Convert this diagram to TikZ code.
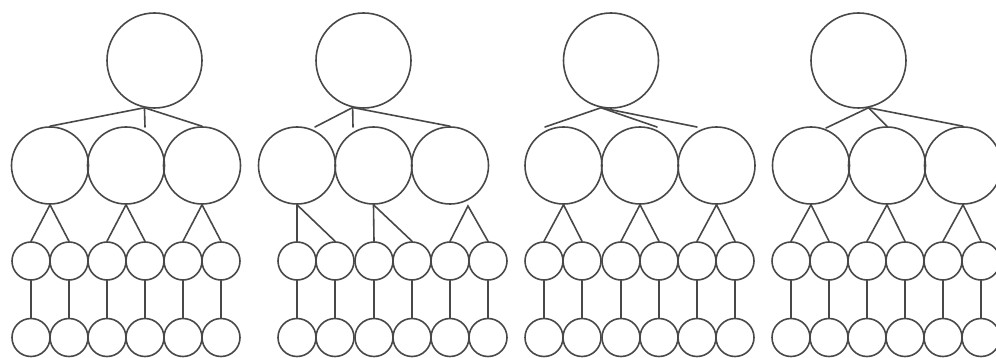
\documentclass[tikz,border=0pt]{standalone}
\definecolor{ink}{RGB}{72,72,72}
\begin{document}
\begin{tikzpicture}[x=1pt,y=-1pt,
  ring/.style={circle,draw=ink,line width=1.6pt,inner sep=0pt,fill=none},
  big/.style={minimum size=95pt},
  mid/.style={minimum size=77pt},
  small/.style={minimum size=38pt},
  link/.style={draw=ink,line width=1.6pt,line cap=round}]
\useasboundingbox (0,0) rectangle (996,358);

% ---------- tree 1 ----------
\node[ring,big] (t1) at (154.5,60.5) {};
\node[ring,mid] (m11) at (50,165.5) {};
\node[ring,mid] (m12) at (126,165.5) {};
\node[ring,mid] (m13) at (202,165.5) {};
\foreach \i/\x in {1/31,2/69,3/107,4/145,5/183,6/221}{
  \node[ring,small] (s1\i) at (\x,261) {};
  \node[ring,small] (b1\i) at (\x,337.5) {};
  \draw[link] (s1\i) -- (b1\i);
}
\coordinate (v1) at (145,127);
\draw[link] (m11.north) -- (t1.258) -- (m13.north);
\draw[link] (t1.258) -- (v1);
\draw[link] (s11.north) -- (m11.south) -- (s12.north);
\draw[link] (s13.north) -- (m12.south) -- (s14.north);
\draw[link] (s15.north) -- (m13.south) -- (s16.north);

% ---------- tree 2 ----------
\node[ring,big] (t2) at (363.5,60.5) {};
\node[ring,mid] (m21) at (297,165.5) {};
\node[ring,mid] (m22) at (373.5,165.5) {};
\node[ring,mid] (m23) at (450,165.5) {};
\foreach \i/\x in {1/297,2/335,3/374,4/412,5/450,6/488}{
  \node[ring,small] (s2\i) at (\x,261) {};
  \node[ring,small] (b2\i) at (\x,337.5) {};
  \draw[link] (s2\i) -- (b2\i);
}
\coordinate (e21) at (315,127);
\coordinate (v2) at (353,127);
\draw[link] (e21) -- (t2.257) -- (m23.north);
\draw[link] (t2.257) -- (v2);
\draw[link] (m21.south) -- (s21.north);
\draw[link] (m21.south) -- (s22.north);
\draw[link] (m22.south) -- (s23.north);
\draw[link] (m22.south) -- (s24.north);
\coordinate (a23) at (468,206);
\draw[link] (s25.north) -- (a23) -- (s26.north);

% ---------- tree 3 ----------
\node[ring,big] (t3) at (611,60.5) {};
\node[ring,mid] (m31) at (563.5,165.5) {};
\node[ring,mid] (m32) at (640,165.5) {};
\node[ring,mid] (m33) at (716.5,165.5) {};
\foreach \i/\x in {1/544,2/582,3/621,4/659,5/697,6/735}{
  \node[ring,small] (s3\i) at (\x,261) {};
  \node[ring,small] (b3\i) at (\x,337.5) {};
  \draw[link] (s3\i) -- (b3\i);
}
\coordinate (e31) at (545,127);
\coordinate (e32) at (657,127);
\coordinate (e33) at (697,127);
\draw[link] (e31) -- (t3.258) -- (e32);
\draw[link] (t3.258) -- (e33);
\draw[link] (s31.north) -- (m31.south) -- (s32.north);
\draw[link] (s33.north) -- (m32.south) -- (s34.north);
\draw[link] (s35.north) -- (m33.south) -- (s36.north);

% ---------- tree 4 ----------
\node[ring,big] (t4) at (858.5,60.5) {};
\node[ring,mid] (m41) at (811,165.5) {};
\node[ring,mid] (m42) at (887,165.5) {};
\node[ring,mid] (m43) at (963,165.5) {};
\foreach \i/\x in {1/791,2/829,3/867,4/905,5/943,6/981}{
  \node[ring,small] (s4\i) at (\x,261) {};
  \node[ring,small] (b4\i) at (\x,337.5) {};
  \draw[link] (s4\i) -- (b4\i);
}
\coordinate (e41) at (826,128);
\draw[link] (e41) -- (t4.282) -- (m43.north);
\draw[link] (t4.282) -- (m42.north);
\draw[link] (s41.north) -- (m41.south) -- (s42.north);
\draw[link] (s43.north) -- (m42.south) -- (s44.north);
\draw[link] (s45.north) -- (m43.south) -- (s46.north);
\end{tikzpicture}
\end{document}
